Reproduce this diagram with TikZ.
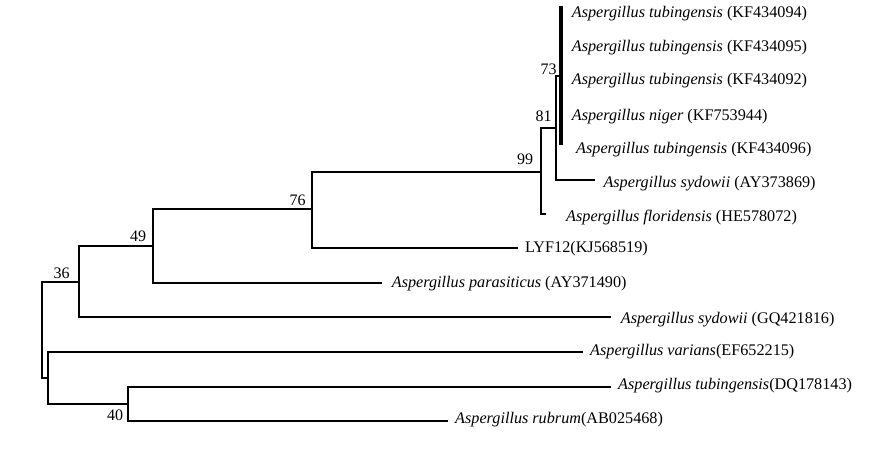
\documentclass[tikz,border=0pt]{standalone}
\usepackage{fontspec}
\setmainfont{Liberation Serif}
\begin{document}
\begin{tikzpicture}[x=1pt,y=-1pt,
  br/.style={line width=2.7pt, line join=miter},
  lf/.style={anchor=west, inner sep=0pt, font=\fontsize{16.2}{19}\selectfont},
  bs/.style={inner sep=0pt, font=\fontsize{16}{19}\selectfont}]
\useasboundingbox[fill=white] (0,0) rectangle (886,448);
% internal nodes
\coordinate (root) at (42,330);
\coordinate (n36) at (79,282);
\coordinate (n49) at (153,246);
\coordinate (n76) at (312,209);
\coordinate (n99) at (541,172);
\coordinate (n81) at (556,128);
\coordinate (n73) at (561,76);
\coordinate (n73t) at (561,6);
\coordinate (n73b) at (561,145);
\coordinate (nX) at (48,378);
\coordinate (n40) at (128,404);
% leaf tips
\coordinate (eAY) at (595,180);
\coordinate (eFL) at (546,214);
\coordinate (eLY) at (518,248);
\coordinate (ePA) at (382,283);
\coordinate (eGQ) at (611,317);
\coordinate (eVA) at (583,352);
\coordinate (eDQ) at (611,387);
\coordinate (eRU) at (448,421);
% branches
\draw[br] (n36) -| (root) |- (nX);
\draw[br] (n49) -| (n36) |- (eGQ);
\draw[br] (n76) -| (n49) |- (ePA);
\draw[br] (n99) -| (n76) |- (eLY);
\draw[br] (n81) -| (n99) |- (eFL);
\draw[br] (n73) -| (n81) |- (eAY);
\draw[line width=3.6pt] (n73t) -- (n73b);
\draw[br] (eVA) -| (nX) |- (n40);
\draw[br] (eDQ) -| (n40) |- (eRU);
% leaf labels
\node[lf] (l1) at (571.7,14) {\textit{Aspergillus tubingensis} (KF434094)};
\node[lf] (l2) at (571.7,48) {\textit{Aspergillus tubingensis} (KF434095)};
\node[lf] (l3) at (571.7,81) {\textit{Aspergillus tubingensis} (KF434092)};
\node[lf] (l4) at (571.7,117) {\textit{Aspergillus niger} (KF753944)};
\node[lf] (l5) at (576,150) {\textit{Aspergillus tubingensis} (KF434096)};
\node[lf] (l6) at (603.3,184) {\textit{Aspergillus sydowii} (AY373869)};
\node[lf] (l7) at (566,218) {\textit{Aspergillus floridensis} (HE578072)};
\node[lf] (l8) at (525,248.3) {LYF12(KJ568519)};
\node[lf] (l9) at (391.7,283.3) {\textit{Aspergillus parasiticus} (AY371490)};
\node[lf] (l10) at (620.7,319.3) {\textit{Aspergillus sydowii} (GQ421816)};
\node[lf] (l11) at (590,351.7) {\textit{Aspergillus varians}(EF652215)};
\node[lf] (l12) at (618,386) {\textit{Aspergillus tubingensis}(DQ178143)};
\node[lf] (l13) at (455,420) {\textit{Aspergillus rubrum}(AB025468)};
% bootstrap values
\node[bs] (b73) at (548.5,69) {73};
\node[bs] (b81) at (543.5,116) {81};
\node[bs] (b99) at (525,159.5) {99};
\node[bs] (b76) at (297.5,200.5) {76};
\node[bs] (b49) at (138,236) {49};
\node[bs] (b36) at (61.7,273.5) {36};
\node[bs] (b40) at (115,415.5) {40};
\end{tikzpicture}
\end{document}
